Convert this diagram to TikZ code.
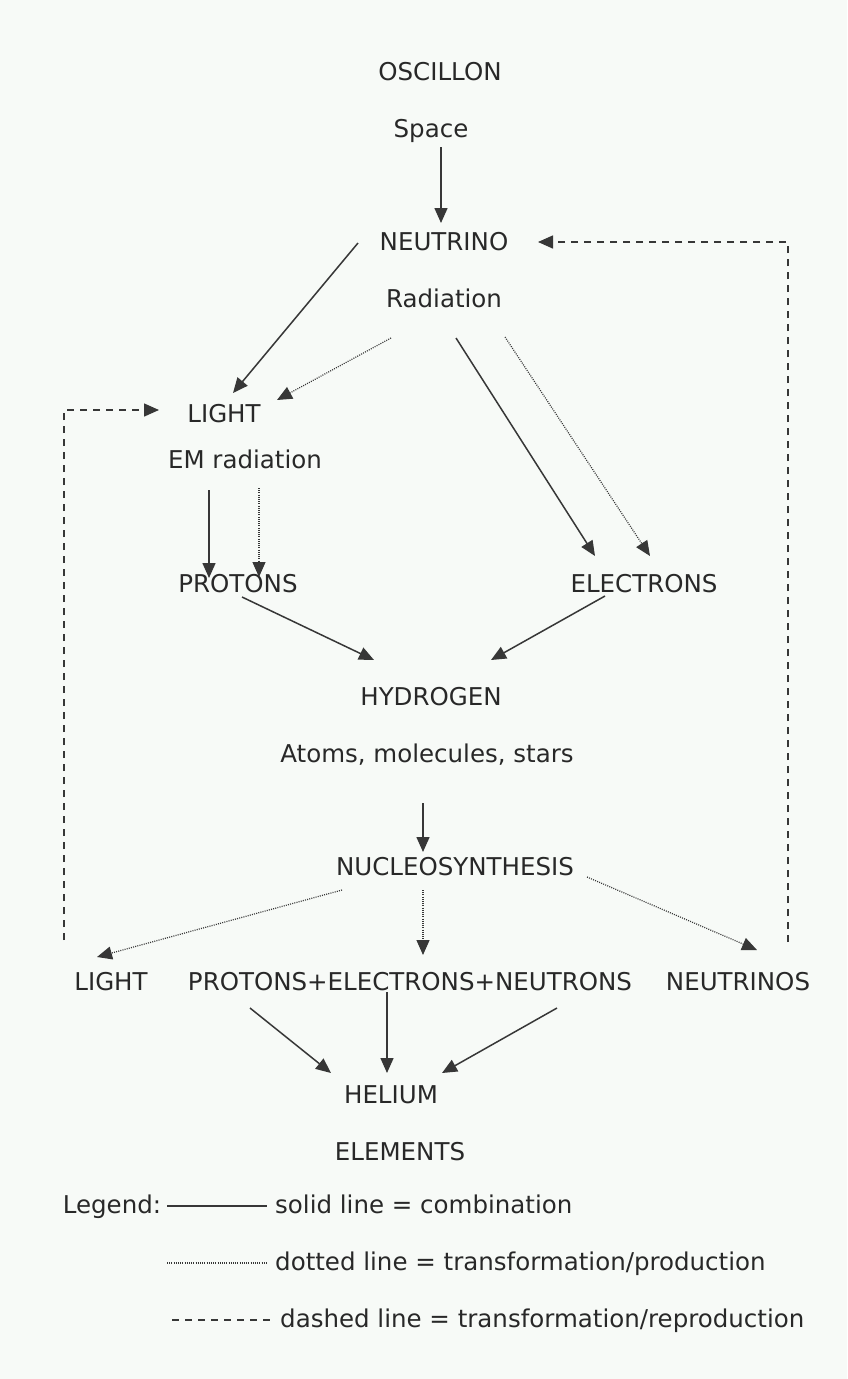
\documentclass[tikz,border=0pt]{standalone}
\usepackage{fontspec}
\setmainfont{DejaVu Sans}
\usetikzlibrary{arrows.meta}
\definecolor{paper}{RGB}{247,250,247}
\definecolor{ink}{RGB}{40,40,40}
\definecolor{pen}{RGB}{55,55,55}
\tikzstyle{term} = [inner sep=0pt, anchor=base, text=ink, font=\fontsize{24.5}{29}\selectfont]
\tikzstyle{arrow} = [line width=1.5pt, draw=pen, -{Triangle[length=15pt,width=13pt]}]
\tikzstyle{dotarrow} = [arrow, line width=1.2pt, dash pattern=on 1pt off 1.2pt]
\tikzstyle{dasharrow} = [arrow, dash pattern=on 7pt off 6pt]
\tikzstyle{sample} = [line width=1.5pt, draw=pen]

\begin{document}
\begin{tikzpicture}[x=1pt, y=-1pt]

\fill[paper] (0,0) rectangle (847,1379);
\useasboundingbox (0,0) rectangle (847,1379);

% Stages
\node (oscillon) [term] at (440,80) {OSCILLON};
\node (space) [term] at (431,137) {Space};
\node (neutrino) [term] at (444,250) {NEUTRINO};
\node (radiation) [term] at (444,307) {Radiation};
\node (light) [term] at (224,422) {LIGHT};
\node (emrad) [term] at (245,468) {EM radiation};
\node (protons) [term] at (238,592) {PROTONS};
\node (electrons) [term] at (644,592) {ELECTRONS};
\node (hydrogen) [term] at (431,705) {HYDROGEN};
\node (atoms) [term] at (427,762) {Atoms, molecules, stars};
\node (nucleo) [term] at (455,875) {NUCLEOSYNTHESIS};
\node (light2) [term] at (111,990) {LIGHT};
\node (pen) [term] at (410,990) {PROTONS+ELECTRONS+NEUTRONS};
\node (neutrinos) [term] at (738,990) {NEUTRINOS};
\node (helium) [term] at (391,1103) {HELIUM};
\node (elements) [term] at (400,1160) {ELEMENTS};

% Legend
\node (legend) [term] at (112,1213) {Legend:};
\node (solidtxt) [term, anchor=base west] at (275,1213) {solid line = combination};
\node (dottedtxt) [term, anchor=base west] at (275,1270) {dotted line = transformation/production};
\node (dashedtxt) [term, anchor=base west] at (280,1327) {dashed line = transformation/reproduction};

% Connections
\draw [arrow] ([shift={(10,10)}]space.base) -- ([shift={(-3,-27)}]neutrino.base);
\draw [arrow] ([shift={(-86,-7)}]neutrino.base) -- ([shift={(9,-29)}]light.base);
\draw [dotarrow] ([shift={(-53,31)}]radiation.base) -- ([shift={(53,-22)}]light.base);
\draw [arrow] ([shift={(12,31)}]radiation.base) -- ([shift={(-49,-36)}]electrons.base);
\draw [dotarrow] ([shift={(61,30)}]radiation.base) -- ([shift={(6,-36)}]electrons.base);
\draw [arrow] ([shift={(-36,22)}]emrad.base) -- ([shift={(-29,-14)}]protons.base);
\draw [dotarrow] ([shift={(14,20)}]emrad.base) -- ([shift={(21,-15)}]protons.base);
\draw [arrow] ([shift={(4,5)}]protons.base) -- ([shift={(-57,-45)}]hydrogen.base);
\draw [arrow] ([shift={(-39,4)}]electrons.base) -- ([shift={(60,-45)}]hydrogen.base);
\draw [arrow] ([shift={(-4,41)}]atoms.base) -- ([shift={(-32,-23)}]nucleo.base);
\draw [dotarrow] ([shift={(-113,15)}]nucleo.base) -- ([shift={(-14,-33)}]light2.base);
\draw [dotarrow] ([shift={(-32,15)}]nucleo.base) -- ([shift={(13,-35)}]pen.base);
\draw [dotarrow] ([shift={(132,2)}]nucleo.base) -- ([shift={(19,-40)}]neutrinos.base);
\draw [arrow] ([shift={(-160,18)}]pen.base) -- ([shift={(-60,-30)}]helium.base);
\draw [arrow] ([shift={(-23,2)}]pen.base) -- ([shift={(-4,-30)}]helium.base);
\draw [arrow] ([shift={(147,18)}]pen.base) -- ([shift={(51,-30)}]helium.base);

% Feedback loops
\draw [dasharrow] ([shift={(-47,-50)}]light2.base) |- ([shift={(-65,-12)}]light.base);
\draw [dasharrow] ([shift={(50,-48)}]neutrinos.base) |- ([shift={(94,-8)}]neutrino.base);

% Legend samples
\draw [sample] ([shift={(6,-7)}]legend.base east) -- ([shift={(-8,-7)}]solidtxt.base west);
\draw [sample, line width=1.2pt, dash pattern=on 1pt off 1.2pt] ([shift={(-108,-7)}]dottedtxt.base west) -- ([shift={(-8,-7)}]dottedtxt.base west);
\draw [sample, dash pattern=on 7pt off 6pt] ([shift={(-108,-7)}]dashedtxt.base west) -- ([shift={(-10,-7)}]dashedtxt.base west);

\end{tikzpicture}
\end{document}
